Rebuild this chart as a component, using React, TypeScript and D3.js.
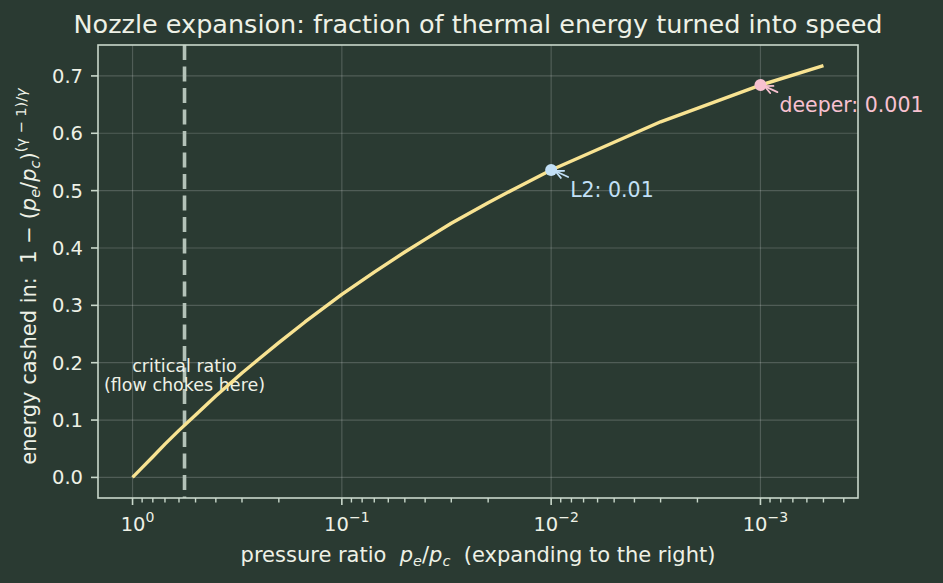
import React from 'react';
import * as d3 from 'd3';

// pressure ratio p_e/p_c and fraction of thermal energy turned into speed
const pressureRatio = [1, 0.9, 0.8, 0.7, 0.6, 0.5, 0.4, 0.3, 0.25, 0.2, 0.15, 0.1, 0.07, 0.05, 0.04, 0.03, 0.02, 0.015, 0.01, 0.003, 0.001, 0.0005];
const energyFraction = [0, 0.017, 0.036, 0.058, 0.082, 0.109, 0.142, 0.182, 0.206, 0.235, 0.271, 0.319, 0.358, 0.393, 0.415, 0.443, 0.479, 0.503, 0.536, 0.62, 0.684, 0.718];

const criticalRatio = 0.5645;
const markedRatios = [0.01, 0.001];
const markedValues = [0.536, 0.684];
const markedLabels = ['L2: 0.01', 'deeper: 0.001'];
const markedColors = ['#c2e0f7', '#f8c1d0'];

const yTicks = [0, 0.1, 0.2, 0.3, 0.4, 0.5, 0.6, 0.7];
const xTicks = [1, 0.1, 0.01, 0.001];
const xTickExp = ['0', '\u22121', '\u22122', '\u22123'];

const W = 943;
const H = 583;
const margin = { left: 98, right: 85, top: 45, bottom: 85 };
const BG = '#2a3a32';
const FG = '#eef1e6';
const FONT = '"DejaVu Sans", sans-serif';

export default function App() {
  const x0 = margin.left;
  const x1 = W - margin.right;
  const y0 = margin.top;
  const y1 = H - margin.bottom;

  const lmax = Math.log10(d3.max(pressureRatio)!);
  const lmin = Math.log10(d3.min(pressureRatio)!);
  const pad = (lmax - lmin) * 0.05;
  const x = d3.scaleLog().domain([10 ** (lmax + pad), 10 ** (lmin - pad)]).range([x0, x1]);

  const ymax = d3.max(energyFraction)!;
  const ymin = d3.min(energyFraction)!;
  const ypad = (ymax - ymin) * 0.05;
  const y = d3.scaleLinear().domain([ymin - ypad, ymax + ypad]).range([y1, y0]);

  const line = d3.line<number>()
    .x((_, i) => x(pressureRatio[i]))
    .y(d => y(d));

  // minor ticks
  const minor: number[] = [];
  for (let e = 1; e >= -4; e--) {
    for (let m = 2; m <= 9; m++) {
      const v = m * 10 ** (e - 1);
      const px = x(v);
      if (px >= x0 && px <= x1) minor.push(v);
    }
  }

  const arrow = (sx: number, sy: number, ex: number, ey: number, color: string, key: string) => {
    const ang = Math.atan2(ey - sy, ex - sx);
    const L = 9;
    const a1 = ang + Math.PI - 0.45;
    const a2 = ang + Math.PI + 0.45;
    return (
      <g key={key} stroke={color} strokeWidth={1.8} fill="none" strokeLinecap="round">
        <line x1={sx} y1={sy} x2={ex} y2={ey} />
        <polyline points={`${ex + L * Math.cos(a1)},${ey + L * Math.sin(a1)} ${ex},${ey} ${ex + L * Math.cos(a2)},${ey + L * Math.sin(a2)}`} />
      </g>
    );
  };

  const cx = x(criticalRatio);
  const sub = 14.5;

  return (
    <svg width={W} height={H} style={{ display: 'block', position: 'absolute', left: 0, top: 0 }} fontFamily={FONT}>
      <rect width={W} height={H} fill={BG} />

      {/* grid */}
      <g stroke="#ffffff" strokeOpacity={0.18} strokeWidth={1.2}>
        {xTicks.map(t => <line key={'gx' + t} x1={x(t)} x2={x(t)} y1={y0} y2={y1} />)}
        {yTicks.map(t => <line key={'gy' + t} x1={x0} x2={x1} y1={y(t)} y2={y(t)} />)}
      </g>

      {/* critical ratio */}
      <line x1={cx} x2={cx} y1={y0} y2={y1} stroke="#b3c2b8" strokeWidth={3.6} strokeDasharray="15,6.5" />
      <g fill={FG} fontSize={17.5} textAnchor="middle">
        <text x={cx} y={372}>critical ratio</text>
        <text x={cx} y={391}>(flow chokes here)</text>
      </g>

      {/* curve */}
      <path d={line(energyFraction)!} fill="none" stroke="#f8e392" strokeWidth={3.4} strokeLinejoin="round" />

      {/* marked points */}
      {markedRatios.map((r, i) => {
        const px = x(r);
        const py = y(markedValues[i]);
        return (
          <g key={'m' + i}>
            <circle cx={px} cy={py} r={6} fill={markedColors[i]} />
            {arrow(px + 17, py + 7, px + 4, py + 1, markedColors[i], 'a' + i)}
            <text x={px + 19} y={py + 27} fill={markedColors[i]} fontSize={20.5}>{markedLabels[i]}</text>
          </g>
        );
      })}

      {/* frame */}
      <rect x={x0} y={y0} width={x1 - x0} height={y1 - y0} fill="none" stroke="#c9d8cb" strokeWidth={1.6} />

      {/* y axis */}
      <g fill={FG} fontSize={19.5} textAnchor="end">
        {yTicks.map(t => (
          <g key={'yt' + t}>
            <line x1={x0 - 7} x2={x0} y1={y(t)} y2={y(t)} stroke="#c9d8cb" strokeWidth={1.6} />
            <text x={x0 - 15} y={y(t)} dy="0.36em">{t.toFixed(1)}</text>
          </g>
        ))}
      </g>

      {/* x axis */}
      <g stroke="#c9d8cb" strokeWidth={1.4}>
        {minor.map(t => <line key={'mn' + t} x1={x(t)} x2={x(t)} y1={y1} y2={y1 + 4.5} />)}
        {xTicks.map(t => <line key={'mj' + t} x1={x(t)} x2={x(t)} y1={y1} y2={y1 + 7} strokeWidth={1.6} />)}
      </g>
      <g fill={FG} fontSize={19.5} textAnchor="middle">
        {xTicks.map((t, i) => (
          <text key={'xt' + t} x={x(t) + 5} y={531}>
            10<tspan fontSize={14} dy={-9}>{xTickExp[i]}</tspan>
          </text>
        ))}
      </g>

      {/* axis labels */}
      <text x={(x0 + x1) / 2} y={562} fill={FG} fontSize={21} textAnchor="middle" xmlSpace="preserve">
        pressure ratio{'  '}<tspan fontStyle="italic">p</tspan><tspan fontSize={sub} fontStyle="italic" dy={4}>e</tspan><tspan dy={-4}>/</tspan><tspan fontStyle="italic">p</tspan><tspan fontSize={sub} fontStyle="italic" dy={4}>c</tspan><tspan dy={-4}>{'  '}(expanding to the right)</tspan>
      </text>
      <text transform={`translate(36,${(y0 + y1) / 2 + 5}) rotate(-90)`} fill={FG} fontSize={21} textAnchor="middle" xmlSpace="preserve">
        energy cashed in:{'  '}1 {'\u2212'} (<tspan fontStyle="italic">p</tspan><tspan fontSize={sub} fontStyle="italic" dy={4}>e</tspan><tspan dy={-4}>/</tspan><tspan fontStyle="italic">p</tspan><tspan fontSize={sub} fontStyle="italic" dy={4}>c</tspan><tspan dy={-4}>)</tspan><tspan fontSize={sub} dy={-10}>({'\u03b3'} {'\u2212'} 1)/<tspan fontStyle="italic">{'\u03b3'}</tspan></tspan>
      </text>

      {/* title */}
      <text x={(x0 + x1) / 2} y={33} fill={FG} fontSize={25.5} textAnchor="middle">
        Nozzle expansion: fraction of thermal energy turned into speed
      </text>
    </svg>
  );
}
